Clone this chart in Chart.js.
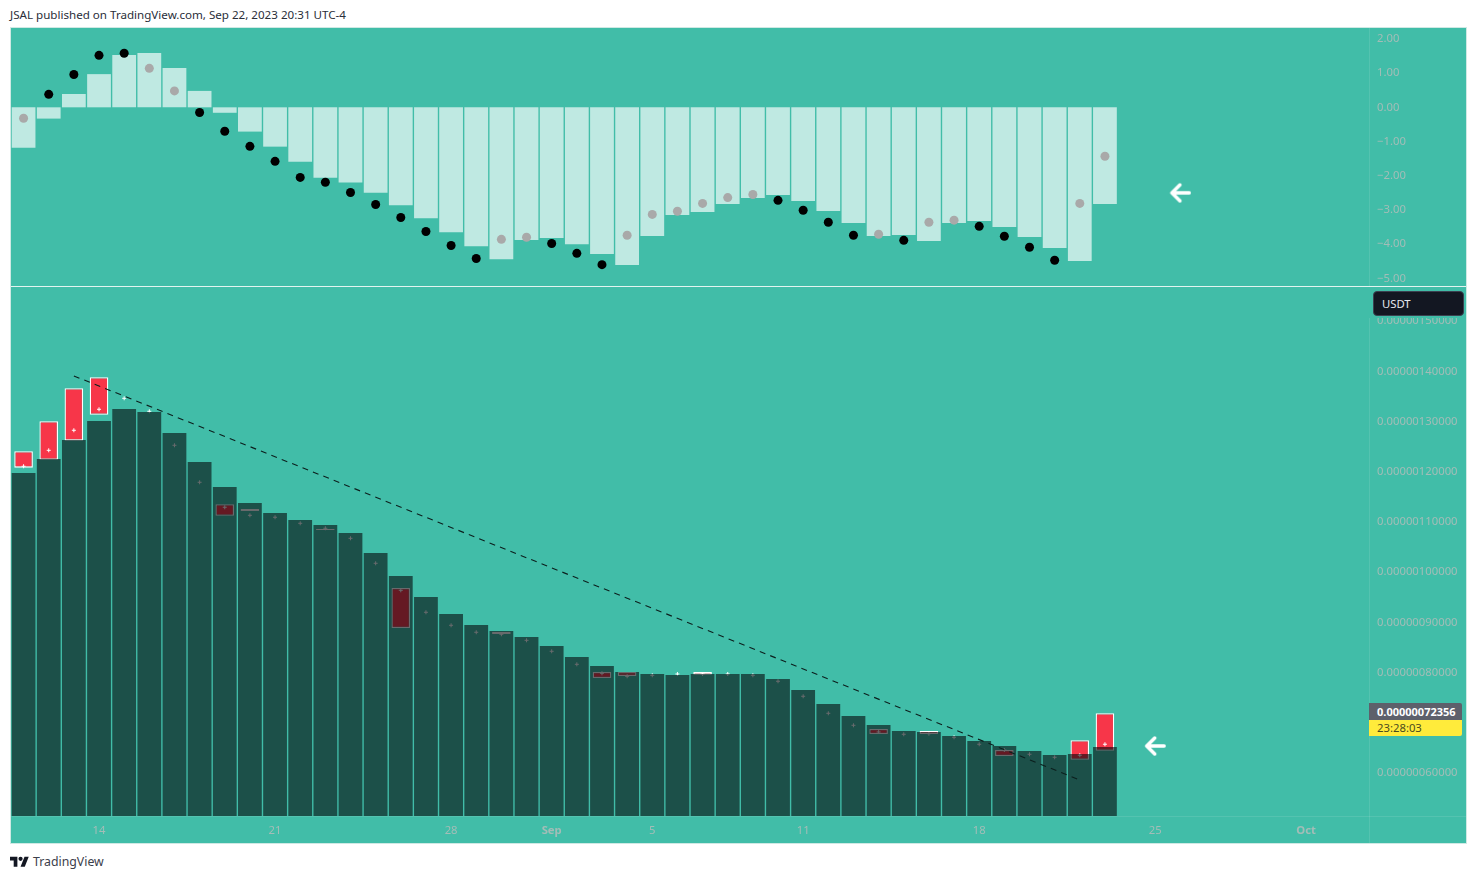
<!DOCTYPE html>
<html>
<head>
<meta charset="utf-8">
<title>JSAL</title>
<script src="https://cdn.jsdelivr.net/npm/chart.js@4"></script>
<style>
  html, body { margin: 0; padding: 0; background: #fff; font-family: "Noto Sans", sans-serif; }
  #stage { position: relative; width: 1477px; height: 879px; overflow: hidden; }
  #stage > * { position: absolute; }
  canvas { display: block; }
  #title { left: 10px; top: 7px; font-size: 11.6px; line-height: 15px; color: #2a2e39; white-space: nowrap; }
  #frame { left: 10px; top: 27px; width: 1455px; height: 815px; background: #41bda8; border: 1px solid #cfe9e4; }
  #topWrap { left: 11px; top: 28px; }
  #mainWrap { left: 11px; top: 287px; }
  #split { left: 11px; top: 286px; width: 1455px; height: 1px; background: #e2f4f0; }
  .rule { background: rgba(255, 255, 255, 0.1); }
  #ruleV { left: 1369px; top: 28px; width: 1px; height: 815px; }
  #ruleH { left: 11px; top: 816px; width: 1455px; height: 1px; }
  #badgeBack { left: 1369px; top: 287px; width: 97px; height: 31px; background: #41bda8; }
  #badge { left: 1373px; top: 291px; width: 81px; height: 23px; padding-left: 8px; background: #131722; border: 1px solid #3b4150; border-radius: 4px; color: #e6e8ee; font-size: 11.3px; line-height: 23px; }
  #lastPrice { left: 1369px; top: 703px; width: 85px; height: 17px; padding-left: 8px; background: #5d606b; color: #fff; font-size: 11px; font-weight: 700; line-height: 17px; border-top-right-radius: 2px; }
  #countdown { left: 1369px; top: 720px; width: 85px; height: 16px; padding-left: 8px; background: #ffeb3b; color: #4a4a20; font-size: 11.3px; line-height: 16px; border-bottom-right-radius: 2px; }
  #logo { left: 10px; top: 856px; }
  #brand { left: 33px; top: 853px; font-size: 12.3px; line-height: 18px; color: #3c404b; }
</style>
</head>
<body>
<div id="stage">
  <div id="title">JSAL published on TradingView.com, Sep 22, 2023 20:31 UTC-4</div>
  <div id="frame"></div>
  <div id="topWrap"><canvas id="topChart" width="1455" height="258"></canvas></div>
  <div id="mainWrap"><canvas id="mainChart" width="1455" height="556"></canvas></div>
  <div id="split"></div>
  <div id="ruleV" class="rule"></div>
  <div id="ruleH" class="rule"></div>
  <div id="badgeBack"></div>
  <div id="badge">USDT</div>
  <div id="lastPrice">0.00000072356</div>
  <div id="countdown">23:28:03</div>
  <svg id="logo" width="19" height="11" viewBox="0 0 36 20"><path fill="#131722" d="M14 20H7V8H0V1h14v19zM28 20h-8l7.5-19h8L28 20z"/><circle fill="#131722" cx="20" cy="5" r="4"/></svg>
  <div id="brand">TradingView</div>
</div>

<script>
// daily bars, Aug 11 to Oct 3 (the last ten are empty space on the right of the chart)
const categories = [
  "Aug 11", "Aug 12", "Aug 13", "Aug 14", "Aug 15", "Aug 16", "Aug 17", "Aug 18", "Aug 19", "Aug 20",
  "Aug 21", "Aug 22", "Aug 23", "Aug 24", "Aug 25", "Aug 26", "Aug 27", "Aug 28", "Aug 29", "Aug 30",
  "Aug 31", "Sep 1", "Sep 2", "Sep 3", "Sep 4", "Sep 5", "Sep 6", "Sep 7", "Sep 8", "Sep 9",
  "Sep 10", "Sep 11", "Sep 12", "Sep 13", "Sep 14", "Sep 15", "Sep 16", "Sep 17", "Sep 18", "Sep 19",
  "Sep 20", "Sep 21", "Sep 22", "Sep 23", "Sep 24", "Sep 25", "Sep 26", "Sep 27", "Sep 28", "Sep 29",
  "Sep 30", "Oct 1", "Oct 2", "Oct 3"
];
const timeTicks = {
  "Aug 14": "14", "Aug 21": "21", "Aug 28": "28", "Sep 1": "Sep", "Sep 5": "5",
  "Sep 11": "11", "Sep 18": "18", "Sep 25": "25", "Oct 1": "Oct"
};

// upper pane
const histogram = [
  -1.18, -0.33, 0.39, 0.97, 1.53, 1.59, 1.15, 0.48, -0.16, -0.71, -1.15, -1.59, -2.06, -2.20, -2.50,
  -2.86, -3.24, -3.65, -4.06, -4.44, -3.88, -3.82, -4.00, -4.29, -4.61, -3.76, -3.15, -3.06, -2.83, -2.65,
  -2.56, -2.74, -3.03, -3.38, -3.76, -3.73, -3.91, -3.38, -3.32, -3.50, -3.79, -4.11, -4.49, -2.83
];
const signalDots = [
  -0.32, 0.38, 0.96, 1.52, 1.58, 1.14, 0.48, -0.15, -0.70, -1.14, -1.58, -2.05, -2.19, -2.49, -2.84,
  -3.22, -3.63, -4.04, -4.42, -3.86, -3.80, -3.98, -4.27, -4.60, -3.74, -3.13, -3.04, -2.81, -2.64, -2.55,
  -2.72, -3.01, -3.36, -3.74, -3.71, -3.89, -3.36, -3.30, -3.48, -3.77, -4.09, -4.47, -2.81, -1.43
];
// 1 = grey dot, 0 = black dot
const dotGrey = [
  1, 0, 0, 0, 0, 1, 1, 0, 0, 0, 0, 0, 0, 0, 0,
  0, 0, 0, 0, 1, 1, 0, 0, 0, 1, 1, 1, 1, 1, 1,
  0, 0, 0, 0, 1, 0, 1, 1, 0, 0, 0, 0, 1, 1
];
const indicatorTicks = [2, 1, 0, -1, -2, -3, -4, -5];

// lower pane, all prices in units of 0.00000001
const columns = [
  119.76, 122.55, 126.33, 130.12, 132.51, 131.91, 127.73, 121.95, 116.97, 113.78, 111.79, 110.40, 109.40, 107.81, 103.82,
  99.24, 95.06, 91.67, 89.48, 88.29, 87.09, 85.30, 83.11, 81.31, 80.12, 79.72, 79.52, 79.72, 79.72, 79.72,
  78.73, 76.53, 73.75, 71.35, 69.56, 68.37, 68.17, 67.37, 66.37, 65.38, 64.38, 63.59, 63.78, 65.18
];
const candleLow = [
  120.82, 122.41, 126.20, 131.37, null, null, null, null, 111.25, 112.19, null, null, 108.41, null, null,
  88.88, null, null, null, 87.69, null, null, null, 78.92, 79.32, null, null, 79.58, null, null,
  null, null, null, null, 67.77, null, 67.77, null, null, 63.39, null, null, 62.65, 64.44
];
const candleHigh = [
  124.08, 130.06, 136.63, 138.82, null, null, null, null, 113.53, 112.59, null, null, 108.61, null, null,
  96.85, null, null, null, 88.09, null, null, null, 80.12, 80.12, null, null, 80.12, null, null,
  null, null, null, null, 68.76, null, 68.37, null, null, 64.58, null, null, 66.51, 71.89
];
const crosses = [
  121.10, 124.28, 128.27, 132.45, 134.64, 132.05, 125.28, 117.91, 112.93, 111.33, 110.94, 109.74, 108.75, 106.75, 101.77,
  96.39, 92.01, 89.42, 88.03, 87.63, 86.43, 84.24, 81.65, 79.86, 79.26, 79.46, 79.72, 79.72, 79.72, 79.46,
  78.27, 75.28, 71.89, 69.50, 68.17, 67.71, 67.83, 67.11, 65.72, 64.58, 63.73, 63.13, 63.53, 65.72
];
const trendFrom = { day: "Aug 13", price: 139.1 };
const trendTo = { day: "Sep 22", price: 58.6 };
const priceTicks = [150, 140, 130, 120, 110, 100, 90, 80, 70, 60];

// the white arrows
const arrowTop = { day: "Sep 26", value: -2.5 };
const arrowMain = { day: "Sep 25", value: 65.38 };

const axisText = "#a3bdb7";
const fontName = "'Noto Sans', sans-serif";

function makeArrow() {
  const c = document.createElement("canvas");
  c.width = 22;
  c.height = 22;
  const g = c.getContext("2d");
  g.strokeStyle = "#ffffff";
  g.lineWidth = 3.5;
  g.lineCap = "round";
  g.lineJoin = "round";
  g.beginPath();
  g.moveTo(20, 11);
  g.lineTo(3, 11);
  g.moveTo(10.5, 3);
  g.lineTo(2.5, 11);
  g.lineTo(10.5, 19);
  g.stroke();
  return c;
}
const arrowImg = makeArrow();

function arrowDataset(arrow) {
  return {
    type: "line",
    data: categories.map(c => (c === arrow.day ? arrow.value : null)),
    showLine: false,
    pointStyle: arrowImg,
    pointRadius: 11,
    order: -2
  };
}

function rightAxis(min, max, ticks, format) {
  return {
    position: "right",
    min: min,
    max: max,
    grid: { display: false, drawTicks: false },
    border: { display: false },
    afterBuildTicks: axis => { axis.ticks = ticks.map(v => ({ value: v })); },
    afterFit: axis => {
      axis.width = 97;
      // no inset for the top and bottom labels, the pane runs edge to edge
      axis.paddingTop = 0;
      axis.paddingBottom = 0;
    },
    ticks: {
      color: axisText,
      padding: 8,
      font: { family: fontName, size: 11.3 },
      callback: format
    }
  };
}

const baseOptions = {
  responsive: false,
  animation: false,
  layout: { padding: 0, autoPadding: false },
  plugins: { legend: { display: false }, tooltip: { enabled: false } }
};

new Chart(document.getElementById("topChart"), {
  type: "bar",
  data: {
    labels: categories,
    datasets: [
      {
        data: histogram,
        backgroundColor: "#bfe9e2",
        barPercentage: 0.945,
        categoryPercentage: 1,
        order: 2
      },
      {
        type: "line",
        data: signalDots,
        showLine: false,
        pointRadius: 4.5,
        pointBorderWidth: 0,
        pointBackgroundColor: dotGrey.map(g => (g ? "#a9a9a9" : "#000000")),
        order: 1
      },
      arrowDataset(arrowTop)
    ]
  },
  options: {
    ...baseOptions,
    scales: {
      x: { display: false },
      y: rightAxis(-5.224, 2.319, indicatorTicks, v =>
        (v < 0 ? "\u2212" : "") + Math.abs(v).toFixed(2))
    }
  }
});

new Chart(document.getElementById("mainChart"), {
  type: "bar",
  data: {
    labels: categories,
    datasets: [
      // columns are see-through, the candles show dark red underneath
      {
        data: columns,
        backgroundColor: "rgba(3, 6, 10, 0.6)",
        barPercentage: 0.945,
        categoryPercentage: 1,
        grouped: false,
        order: 1
      },
      {
        data: candleLow.map((low, i) => (low === null ? null : [low, candleHigh[i]])),
        backgroundColor: "#f73649",
        borderColor: "#ffffff",
        borderWidth: 1.3,
        borderSkipped: false,
        barPercentage: 0.74,
        categoryPercentage: 1,
        grouped: false,
        order: 3
      },
      {
        type: "line",
        data: crosses,
        showLine: false,
        pointStyle: "cross",
        pointRadius: 2,
        pointBorderWidth: 1,
        pointBorderColor: "#ffffff",
        order: 2
      },
      {
        type: "line",
        data: categories.map(c => (c === trendFrom.day ? trendFrom.price : c === trendTo.day ? trendTo.price : null)),
        spanGaps: true,
        borderColor: "#0c1f1d",
        borderWidth: 1.1,
        borderDash: [6, 5.2],
        pointRadius: 0,
        order: -1
      },
      arrowDataset(arrowMain)
    ]
  },
  options: {
    ...baseOptions,
    scales: {
      x: {
        grid: { display: false, drawTicks: false },
        border: { display: false },
        afterFit: axis => { axis.height = 27; },
        ticks: {
          autoSkip: false,
          maxRotation: 0,
          color: axisText,
          padding: 8,
          font: ctx => ({
            family: fontName,
            size: 11.3,
            weight: ctx.tick && (ctx.tick.label === "Sep" || ctx.tick.label === "Oct") ? "700" : "400"
          }),
          callback: (v, i) => timeTicks[categories[i]] || ""
        }
      },
      y: rightAxis(51.43, 156.81, priceTicks, v => (v / 1e8).toFixed(11))
    }
  }
});
</script>
</body>
</html>
